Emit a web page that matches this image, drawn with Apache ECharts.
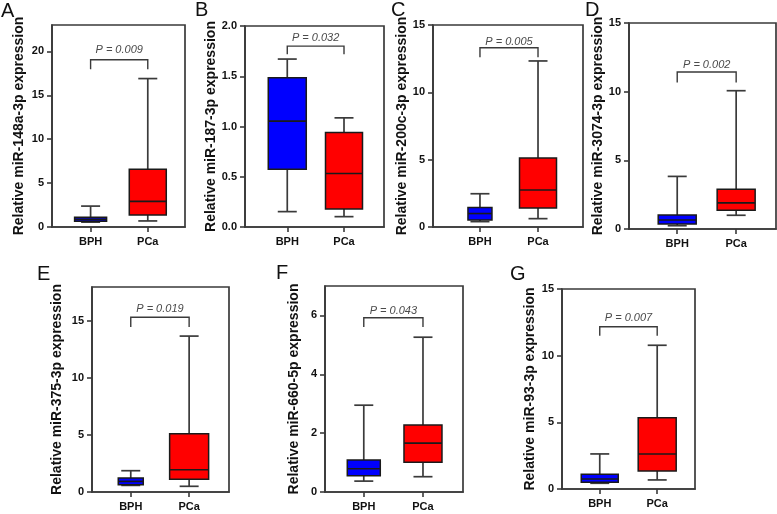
<!DOCTYPE html>
<html>
<head>
<meta charset="utf-8">
<script src="https://cdn.jsdelivr.net/npm/echarts@6/dist/echarts.min.js"></script>
<style>
html,body{margin:0;padding:0;background:#fff;}
#chart{width:777px;height:514px;}
</style>
</head>
<body>
<div id="chart"></div>
<script>
// ---- data ----
const panelLetters = ['A', 'B', 'C', 'D', 'E', 'F', 'G'];
const categories = ['BPH', 'PCa'];
const yTitles = [
  'Relative miR-148a-3p expression',
  'Relative miR-187-3p expression',
  'Relative miR-200c-3p expression',
  'Relative miR-3074-3p expression',
  'Relative miR-375-3p expression',
  'Relative miR-660-5p expression',
  'Relative miR-93-3p expression'
];
// [min, Q1, median, Q3, max]
const bphStats = [
  [0.55, 0.65, 0.87, 1.12, 2.38],
  [0.153, 0.575, 1.053, 1.485, 1.671],
  [0.40, 0.52, 1.00, 1.45, 2.47],
  [0.24, 0.37, 0.66, 1.02, 3.83],
  [0.58, 0.64, 0.93, 1.23, 1.87],
  [0.37, 0.55, 0.79, 1.09, 2.95],
  [0.43, 0.50, 0.75, 1.10, 2.63]
];
const pcaStats = [
  [0.69, 1.38, 2.92, 6.57, 16.9],
  [0.103, 0.179, 0.532, 0.940, 1.086],
  [0.62, 1.42, 2.75, 5.12, 12.33],
  [1.00, 1.37, 1.90, 2.90, 10.07],
  [0.50, 1.11, 1.96, 5.11, 13.69],
  [0.52, 1.01, 1.66, 2.28, 5.26],
  [0.68, 1.35, 2.63, 5.35, 10.78]
];
const pLabels = ['P = 0.009', 'P = 0.032', 'P = 0.005', 'P = 0.002', 'P = 0.019', 'P = 0.043', 'P = 0.007'];
const yMax = [23, 2, 15, 15, 18, 7, 15];
const yTicks = [
  [0, 5, 10, 15, 20],
  [0, 0.5, 1, 1.5, 2],
  [0, 5, 10, 15],
  [0, 5, 10, 15],
  [0, 5, 10, 15],
  [0, 2, 4, 6],
  [0, 5, 10, 15]
];
// significance bracket: level of bar, level of its ends, level of label
const bracketLevel = [19.04, 1.80, 13.31, 11.43, 15.34, 5.92, 12.17];
const bracketDrop  = [17.97, 1.718, 12.6, 10.67, 14.49, 5.61, 11.5];
const pLabelLevel  = [20.15, 1.877, 13.76, 11.96, 16.1, 6.15, 12.8];

// ---- layout / style ----
const FONT = '"Liberation Sans", Arial, sans-serif';
const grids = [
  {left: 52, top: 25, width: 133, height: 202},
  {left: 245, top: 26, width: 139, height: 201},
  {left: 433, top: 25, width: 150, height: 202},
  {left: 629, top: 23, width: 147, height: 206},
  {left: 92, top: 287, width: 137, height: 205},
  {left: 325, top: 286, width: 138, height: 206},
  {left: 562, top: 289, width: 133, height: 200}
];
const xRanges = [[0.325, 2.651], [0.255, 2.705], [0.191, 2.775], [0.182, 2.676], [0.336, 2.683], [0.345, 2.676], [0.343, 2.658]];
const boxWidths = [[32, 37], [38, 37], [24, 37], [38, 38], [25, 39], [33, 38], [37, 38]];
const titleGaps = [26, 18, 17, 17, 28, 23.5, 25];
const letterPos = [[1, 11], [195, 10], [391, 10], [585, 10], [37, 274.5], [276, 273], [510, 274.5]];
const fills = ['#0000ff', '#ff0000'];
const lineColor = '#3a3a3a';
const boxEdge = '#1a1a1a';

function makeBoxRenderer(panel) {
  return function (params, api) {
    const x = api.value(0);
    const g = params.dataIndex;
    const vals = [1, 2, 3, 4, 5].map(k => api.value(k));
    const pt = v => api.coord([x, v]);
    const cx = pt(vals[0])[0];
    const yMin = pt(vals[0])[1], yQ1 = pt(vals[1])[1], yMed = pt(vals[2])[1], yQ3 = pt(vals[3])[1], yMaxP = pt(vals[4])[1];
    const bw = boxWidths[panel][g];
    const cap = 19;
    const ls = {stroke: lineColor, lineWidth: 1.7, fill: null};
    return {
      type: 'group',
      children: [
        {type: 'line', shape: {x1: cx, y1: yMaxP, x2: cx, y2: yQ3}, style: ls},
        {type: 'line', shape: {x1: cx, y1: yQ1, x2: cx, y2: yMin}, style: ls},
        {type: 'line', shape: {x1: cx - cap / 2, y1: yMaxP, x2: cx + cap / 2, y2: yMaxP}, style: ls},
        {type: 'line', shape: {x1: cx - cap / 2, y1: yMin, x2: cx + cap / 2, y2: yMin}, style: ls},
        {type: 'rect', shape: {x: cx - bw / 2, y: yQ3, width: bw, height: yQ1 - yQ3},
          style: {fill: fills[g], stroke: boxEdge, lineWidth: 1.5}},
        {type: 'line', shape: {x1: cx - bw / 2, y1: yMed, x2: cx + bw / 2, y2: yMed},
          style: {stroke: boxEdge, lineWidth: 1.6}}
      ]
    };
  };
}

function makeBracketRenderer(panel) {
  return function (params, api) {
    const x1 = api.value(0), x2 = api.value(1);
    const lv = api.value(2), dr = api.value(3), tl = api.value(4);
    const a = api.coord([x1, dr]), b = api.coord([x1, lv]), c = api.coord([x2, lv]), d = api.coord([x2, dr]);
    const t = api.coord([(x1 + x2) / 2, tl]);
    return {
      type: 'group',
      children: [
        {type: 'polyline', shape: {points: [a, b, c, d]}, style: {stroke: lineColor, lineWidth: 1.4, fill: null}},
        {type: 'text', x: t[0], y: t[1], style: {text: pLabels[panel], fill: '#4a4a4a', font: 'italic 11px ' + FONT, align: 'center', verticalAlign: 'middle'}}
      ]
    };
  };
}

const option = {
  animation: false,
  backgroundColor: '#fff',
  grid: grids.map(g => Object.assign({show: true, borderColor: lineColor, borderWidth: 1.7, backgroundColor: 'transparent'}, g)),
  xAxis: grids.map((g, i) => ({
    type: 'value', gridIndex: i, min: xRanges[i][0], max: xRanges[i][1],
    splitLine: {show: false},
    axisLine: {show: true, lineStyle: {color: lineColor, width: 1.7}},
    axisTick: {show: true, length: 5, lineStyle: {color: lineColor, width: 1.6}, customValues: [1, 2]},
    axisLabel: {customValues: [1, 2], formatter: v => categories[Math.round(v) - 1] || '', color: '#111', fontWeight: 'bold', fontSize: 11, fontFamily: FONT, margin: 9}
  })),
  yAxis: grids.map((g, i) => ({
    type: 'value', gridIndex: i, min: 0, max: yMax[i],
    name: yTitles[i], nameLocation: 'middle', nameRotate: 90, nameGap: titleGaps[i],
    nameTextStyle: {fontSize: 14, fontWeight: 'bold', color: '#111', fontFamily: FONT},
    splitLine: {show: false},
    axisLine: {show: true, lineStyle: {color: lineColor, width: 1.7}},
    axisTick: {show: true, length: 5, lineStyle: {color: lineColor, width: 1.6}, customValues: yTicks[i]},
    axisLabel: {customValues: yTicks[i], formatter: v => (i === 1 ? v.toFixed(1) : String(v)), color: '#111', fontWeight: 'bold', fontSize: 11, fontFamily: FONT, margin: 8}
  })),
  series: [],
  graphic: panelLetters.map((L, i) => ({
    type: 'text', left: letterPos[i][0], top: letterPos[i][1] - 10,
    style: {text: L, font: '20px ' + FONT, fill: '#111'}
  }))
};

for (let i = 0; i < 7; i++) {
  option.series.push({
    type: 'custom', xAxisIndex: i, yAxisIndex: i, clip: false,
    renderItem: makeBoxRenderer(i),
    encode: {x: 0, y: [1, 2, 3, 4, 5]},
    data: [[1].concat(bphStats[i]), [2].concat(pcaStats[i])]
  });
  option.series.push({
    type: 'custom', xAxisIndex: i, yAxisIndex: i, clip: false,
    renderItem: makeBracketRenderer(i),
    encode: {x: [0, 1], y: [2, 3, 4]},
    data: [[1, 2, bracketLevel[i], bracketDrop[i], pLabelLevel[i]]]
  });
}

const chart = echarts.init(document.getElementById('chart'), null, {renderer: 'canvas'});
chart.setOption(option);
</script>
</body>
</html>
